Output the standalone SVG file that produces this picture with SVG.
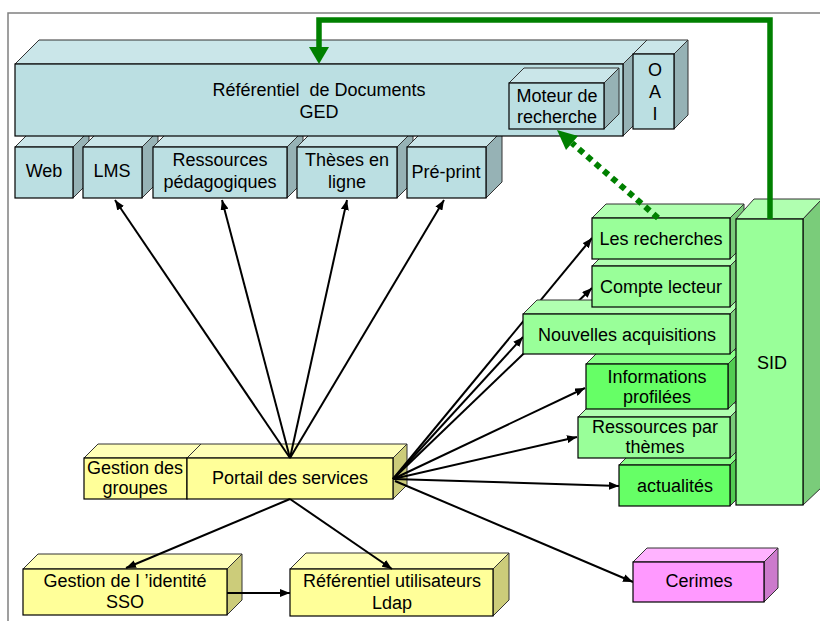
<svg xmlns="http://www.w3.org/2000/svg" width="820" height="621" viewBox="0 0 820 621">
<defs>
<style>
text{font-family:"Liberation Sans",Arial,sans-serif;font-size:18px;fill:#000;text-anchor:middle}
.f{stroke:#000;stroke-width:1.2}
.e{stroke:#333;stroke-width:1}
.tf{fill:#BBDFE2}.tt{fill:#CAE6E9}.ts{fill:#96B2B5}
.yf{fill:#FFFF99}.yt{fill:#FFFFB8}.ys{fill:#CCCC7A}
.gf{fill:#99FF99}.gt{fill:#B0FFB0}.gs{fill:#7ACC7A}
.bf{fill:#66FF66}.bt{fill:#88FF88}.bs{fill:#52CC52}
.pf{fill:#FF99FF}.pt{fill:#FFB3FF}.ps{fill:#CC7ACC}
.c{stroke:#000;stroke-width:2;fill:none;marker-end:url(#ah)}
</style>
<marker id="ah" markerWidth="10" markerHeight="8" refX="10" refY="4" orient="auto" markerUnits="userSpaceOnUse">
<path d="M0,0 L10,4 L0,8 Z" fill="#000"/>
</marker>
</defs>
<rect width="820" height="621" fill="#fff"/>
<path d="M8,621 V13 H820" fill="none" stroke="#808080" stroke-width="1.5"/>

<g id="web"><polygon class="tt e" points="15,147 31,131 89,131 73,147"/><polygon class="ts e" points="73,147 89,131 89,182 73,198"/><rect class="tf f" x="15" y="147" width="58" height="51"/><text x="44" y="177">Web</text></g>
<g id="lms"><polygon class="tt e" points="83,147 99,131 158,131 142,147"/><polygon class="ts e" points="142,147 158,131 158,182 142,198"/><rect class="tf f" x="83" y="147" width="59" height="51"/><text x="112" y="177">LMS</text></g>
<g id="ressources-pedagogiques"><polygon class="tt e" points="153,147 169,131 303,131 287,147"/><polygon class="ts e" points="287,147 303,131 303,182 287,198"/><rect class="tf f" x="153" y="147" width="134" height="51"/><text x="220" y="166">Ressources</text><text x="220" y="188">pédagogiques</text></g>
<g id="theses"><polygon class="tt e" points="297,147 313,131 413,131 397,147"/><polygon class="ts e" points="397,147 413,131 413,182 397,198"/><rect class="tf f" x="297" y="147" width="100" height="51"/><text x="347" y="166">Thèses en</text><text x="347" y="188">ligne</text></g>
<g id="preprint"><polygon class="tt e" points="407,147 423,131 502,131 486,147"/><polygon class="ts e" points="486,147 502,131 502,182 486,198"/><rect class="tf f" x="407" y="147" width="79" height="51"/><text x="446" y="178">Pré-print</text></g>

<g id="ged"><polygon class="tt e" points="15,64 39,40 647,40 623,64"/><polygon class="ts e" points="623,64 647,40 647,112 623,136"/><rect class="tf f" x="15" y="64" width="608" height="72"/><text x="319" y="96" xml:space="preserve">Référentiel  de Documents</text><text x="319" y="118">GED</text></g>
<g id="oai"><polygon class="tt e" points="633,54 647,40 688,40 674,54"/><polygon class="ts e" points="674,54 688,40 688,115 674,129"/><rect class="tf f" x="633" y="54" width="41" height="75"/><text x="655" y="76">O</text><text x="655" y="98">A</text><text x="655" y="120">I</text></g>
<g id="moteur"><polygon class="tt e" points="509,83 524,68 619,68 604,83"/><polygon class="ts e" points="604,83 619,68 619,114 604,129"/><rect class="tf f" x="509" y="83" width="95" height="46"/><text x="557" y="102">Moteur de</text><text x="557" y="123">recherche</text></g>

<g id="gestion-groupes"><polygon class="yt e" points="84,458 98,444 201,444 187,458"/><rect class="yf f" x="84" y="458" width="103" height="41"/><text x="135" y="474">Gestion des</text><text x="135" y="494">groupes</text></g>
<g id="portail"><polygon class="yt e" points="187,458 201,444 407,444 393,458"/><polygon class="ys e" points="393,458 407,444 407,485 393,499"/><rect class="yf f" x="187" y="458" width="206" height="41"/><text x="290" y="484">Portail des services</text></g>
<g id="sso"><polygon class="yt e" points="23,569 38,554 242,554 227,569"/><polygon class="ys e" points="227,569 242,554 242,600 227,615"/><rect class="yf f" x="23" y="569" width="204" height="46"/><text x="125" y="587">Gestion de l ’identité</text><text x="125" y="608">SSO</text></g>
<g id="ldap"><polygon class="yt e" points="290,569 306,553 509,553 493,569"/><polygon class="ys e" points="493,569 509,553 509,600 493,616"/><rect class="yf f" x="290" y="569" width="203" height="47"/><text x="392" y="587">Référentiel utilisateurs</text><text x="392" y="609">Ldap</text></g>

<g id="connectors">
<line class="c" x1="290" y1="458" x2="115" y2="200"/>
<line class="c" x1="290" y1="458" x2="222" y2="200"/>
<line class="c" x1="290" y1="458" x2="347" y2="200"/>
<line class="c" x1="290" y1="458" x2="444" y2="200"/>
<line class="c" x1="393" y1="479" x2="592" y2="238"/>
<line class="c" x1="393" y1="479" x2="592" y2="288"/>
<line class="c" x1="393" y1="479" x2="523" y2="337"/>
<line class="c" x1="393" y1="479" x2="585" y2="388"/>
<line class="c" x1="393" y1="479" x2="577" y2="437"/>
<line class="c" x1="393" y1="479" x2="619" y2="486"/>
<line class="c" x1="395" y1="481" x2="633" y2="582"/>
<line class="c" x1="290" y1="499" x2="126" y2="568"/>
<line class="c" x1="290" y1="499" x2="392" y2="569"/>
<line class="c" x1="227" y1="593" x2="290" y2="593"/>
</g>

<g id="actualites"><polygon class="bt e" points="619,465 633,451 744,451 730,465"/><polygon class="bs e" points="730,465 744,451 744,492 730,506"/><rect class="bf f" x="619" y="465" width="111" height="41"/><text x="675" y="492">actualités</text></g>
<g id="ressources-themes"><polygon class="gt e" points="578,417 592,403 744,403 730,417"/><polygon class="gs e" points="730,417 744,403 744,444 730,458"/><rect class="gf f" x="578" y="417" width="152" height="41"/><text x="655" y="433">Ressources par</text><text x="655" y="453">thèmes</text></g>
<g id="informations"><polygon class="bt e" points="586,364 600,350 742,350 728,364"/><polygon class="bs e" points="728,364 742,350 742,395 728,409"/><rect class="bf f" x="586" y="364" width="142" height="45"/><text x="657" y="383">Informations</text><text x="657" y="403">profilées</text></g>
<g id="nouvelles"><polygon class="gt e" points="523,314 537,300 744,300 730,314"/><polygon class="gs e" points="730,314 744,300 744,340 730,354"/><rect class="gf f" x="523" y="314" width="207" height="40"/><text x="627" y="341">Nouvelles acquisitions</text></g>
<g id="compte"><polygon class="gt e" points="592,266 606,252 744,252 730,266"/><polygon class="gs e" points="730,266 744,252 744,293 730,307"/><rect class="gf f" x="592" y="266" width="138" height="41"/><text x="661" y="293">Compte lecteur</text></g>
<g id="recherches"><polygon class="gt e" points="592,218 606,204 744,204 730,218"/><polygon class="gs e" points="730,218 744,204 744,245 730,259"/><rect class="gf f" x="592" y="218" width="138" height="41"/><text x="661" y="245">Les recherches</text></g>
<g id="sid"><polygon class="gt e" points="736,219 754,199 822,199 803,219"/><polygon class="gs e" points="803,219 822,199 822,487 803,505"/><rect class="gf f" x="736" y="219" width="67" height="286"/><text x="772" y="369">SID</text></g>
<g id="cerimes"><polygon class="pt e" points="633,562 647,548 778,548 764,562"/><polygon class="ps e" points="764,562 778,548 778,588 764,602"/><rect class="pf f" x="633" y="562" width="131" height="40"/><text x="699" y="587">Cerimes</text></g>

<g id="connectors-green">
<polyline points="770,219 770,20 319,20 319,48" fill="none" stroke="#008000" stroke-width="5.5"/>
<polygon points="309,47 329,47 319,64" fill="#008000"/>
<line x1="658" y1="218" x2="572" y2="143" stroke="#008000" stroke-width="6" stroke-dasharray="6 5"/>
<polygon points="557,130 578,136 566,150" fill="#008000"/>
</g>
</svg>
